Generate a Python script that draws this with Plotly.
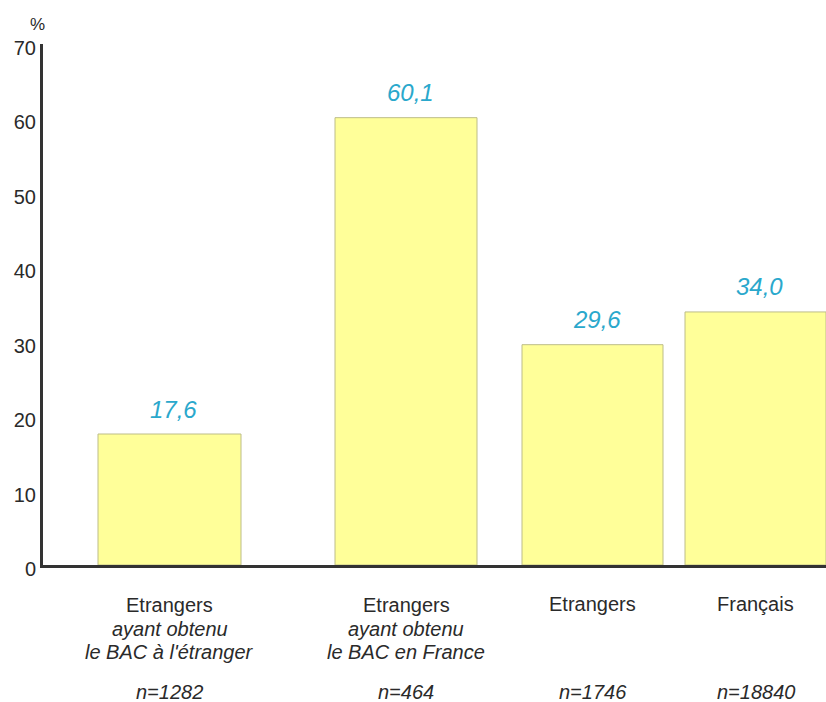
import plotly.graph_objects as go

# ---- data ----
categories_line1 = ["Etrangers", "Etrangers", "Etrangers", "Français"]
categories_detail = [["ayant obtenu", "le BAC à l'étranger"],
                     ["ayant obtenu", "le BAC en France"],
                     [], []]
sample_sizes = ["n=1282", "n=464", "n=1746", "n=18840"]
values = [17.6, 60.1, 29.6, 34.0]
y_ticks = [0, 10, 20, 30, 40, 50, 60, 70]

# ---- layout (slot positions along x, in plot units) ----
slot_centers = [126.5, 363, 549.5, 712.5]
slot_widths = [143, 142, 141, 141]
x_range = [0, 783]

FONT = "Liberation Sans, Arial, Helvetica, sans-serif"
VAL_COLOR = "#2aa8cc"
TXT_COLOR = "#2a2a2a"

fig = go.Figure()
fig.add_trace(go.Bar(
    x=slot_centers, y=values, width=slot_widths,
    marker=dict(color="#ffff99", line=dict(color="#bdbd88", width=1)),
    hoverinfo="skip",
))

annotations = []
for xc, v in zip(slot_centers, values):
    annotations.append(dict(
        x=xc + 4, y=v, xref="x", yref="y",
        text="<i>" + f"{v:.1f}".replace(".", ",") + "</i>",
        showarrow=False, yanchor="middle", yshift=25,
        font=dict(family=FONT, size=24, color=VAL_COLOR),
    ))

for i, xc in enumerate(slot_centers):
    line_y = -40 if categories_detail[i] else -39
    annotations.append(dict(
        x=xc, y=0, xref="x", yref="y", text=categories_line1[i],
        showarrow=False, yanchor="middle", yshift=line_y,
        font=dict(family=FONT, size=20, color=TXT_COLOR),
    ))
    for j, t in enumerate(categories_detail[i]):
        annotations.append(dict(
            x=xc, y=0, xref="x", yref="y", text="<i>" + t + "</i>",
            showarrow=False, yanchor="middle", yshift=line_y - 23.5 * (j + 1),
            font=dict(family=FONT, size=20, color=TXT_COLOR),
        ))
    annotations.append(dict(
        x=xc, y=0, xref="x", yref="y", text="<i>" + sample_sizes[i] + "</i>",
        showarrow=False, yanchor="middle", yshift=-127,
        font=dict(family=FONT, size=20, color=TXT_COLOR),
    ))

annotations.append(dict(
    x=0, y=1, xref="paper", yref="paper", text="%", showarrow=False,
    xanchor="center", yanchor="bottom", xshift=-6, yshift=8,
    font=dict(family=FONT, size=17, color=TXT_COLOR),
))

fig.update_layout(
    width=826, height=702,
    margin=dict(l=43, r=0, t=44, b=137),
    paper_bgcolor="white", plot_bgcolor="white",
    showlegend=False,
    annotations=annotations,
    xaxis=dict(range=x_range, showgrid=False, zeroline=False, showticklabels=False,
               showline=True, linecolor="#333333", linewidth=3, ticks="",
               fixedrange=True),
    yaxis=dict(range=[0, 70], tickvals=y_ticks, showgrid=False, zeroline=False,
               showline=True, linecolor="#333333", linewidth=3, ticks="",
               tickfont=dict(family=FONT, size=20, color=TXT_COLOR),
               ticklabelshift=4, ticklabelstandoff=0, fixedrange=True),
)

fig.write_html("out.html", config={"displayModeBar": False},
               post_script="document.body.style.margin='0';document.body.style.overflow='hidden';")
